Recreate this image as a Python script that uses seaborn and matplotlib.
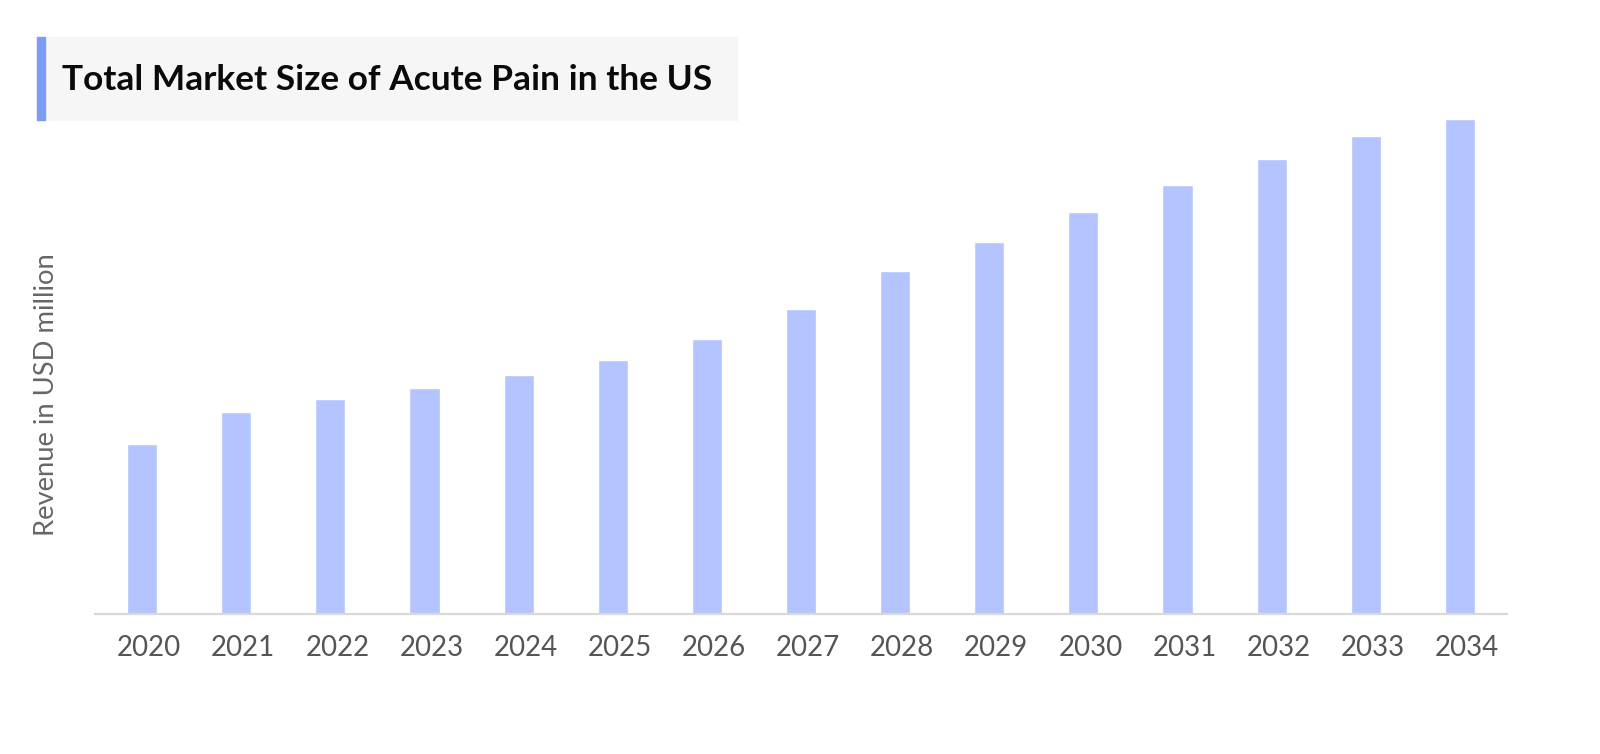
import matplotlib
matplotlib.use('Agg')
import matplotlib.pyplot as plt
import matplotlib.patches as mpatches
import matplotlib.transforms as mtransforms
import seaborn as sns
import pandas as pd

# data (arbitrary units - no y ticks shown)
years = ['2020', '2021', '2022', '2023', '2024', '2025', '2026', '2027',
         '2028', '2029', '2030', '2031', '2032', '2033', '2034']
revenue = [167, 198, 211, 222, 234, 249, 270, 299, 336, 365, 394, 421, 446, 469, 485]

title = 'Total Market Size of Acute Pain in the US'
ylabel = 'Revenue in USD million'

bar_color = '#b4c4ff'
accent = '#7b9bf5'

sns.set_theme(style='white')
plt.rcParams['font.family'] = ['Lato', 'DejaVu Sans']

df = pd.DataFrame({'year': years, 'revenue': revenue})

fig = plt.figure(figsize=(16, 7.54), dpi=100)
ax = fig.add_axes([95 / 1600, 1 - 614 / 754, 1412 / 1600, 510 / 754])

sns.barplot(data=df, x='year', y='revenue', color=bar_color, width=0.32,
            saturation=1, ax=ax)

ax.set_xlim(-0.5, len(years) - 0.5)
ax.set_ylim(0, 500)
ax.set_yticks([])
ax.set_xlabel('')
ax.set_ylabel('')
for side in ['top', 'right', 'left']:
    ax.spines[side].set_visible(False)
ax.spines['bottom'].set_color('#d9d9d9')
ax.spines['bottom'].set_linewidth(1.6)
ax.tick_params(axis='x', length=0, pad=15, labelsize=19.9, labelcolor='#555555')

# labels sit a little right of the bar centres in the original
shift = mtransforms.ScaledTranslation(7 / 100, 0, fig.dpi_scale_trans)
for lbl in ax.get_xticklabels():
    lbl.set_transform(lbl.get_transform() + shift)

# y label
fig.text(47 / 1600, 1 - 395 / 754, ylabel, rotation=90, ha='center', va='center',
         fontsize=19.7, color='#666666')

# title box
fig.patches.append(mpatches.Rectangle((37 / 1600, 1 - 120 / 754), 700 / 1600, 83 / 754,
                                      transform=fig.transFigure, color='#f6f6f6', zorder=0))
fig.patches.append(mpatches.Rectangle((37 / 1600, 1 - 120 / 754), 8 / 1600, 83 / 754,
                                      transform=fig.transFigure, color=accent, zorder=1))
fig.text(62 / 1600, 1 - 80 / 754, title, ha='left', va='center',
         fontsize=25.4, fontweight='bold', color='#0a0a0a')

fig.savefig('out.png', dpi=100)
